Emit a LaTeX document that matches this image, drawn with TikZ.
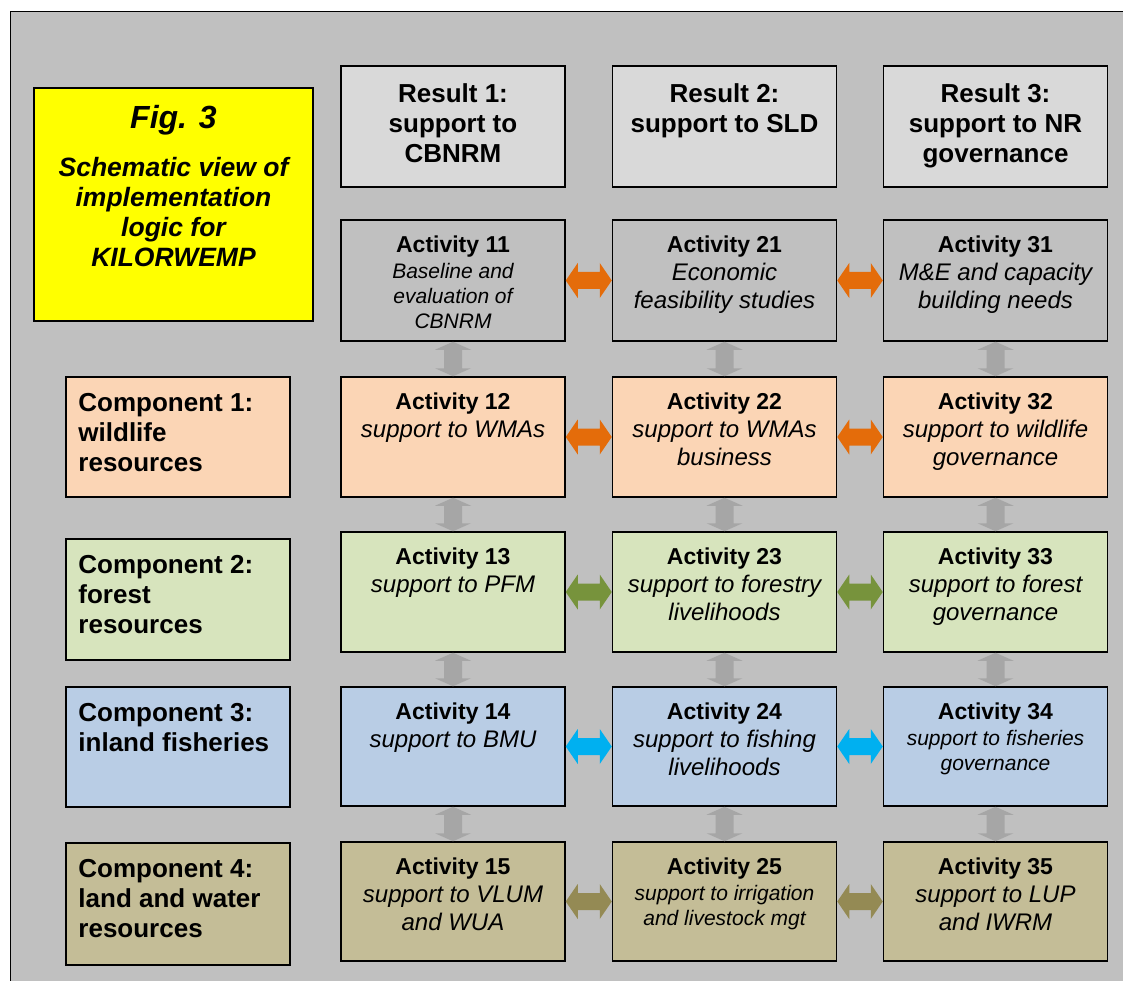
\documentclass[tikz,border=0pt]{standalone}
\usepackage{fontspec}
\setmainfont{Liberation Sans}
\usetikzlibrary{calc}

\definecolor{panel}{HTML}{C0C0C0}
\definecolor{resultfill}{HTML}{D9D9D9}
\definecolor{rowa}{HTML}{C0C0C0}
\definecolor{peach}{HTML}{FBD5B5}
\definecolor{sage}{HTML}{D7E4BD}
\definecolor{paleblue}{HTML}{B9CDE5}
\definecolor{khaki}{HTML}{C4BD97}
\definecolor{figyellow}{HTML}{FFFF00}
\definecolor{linkgray}{HTML}{A6A6A6}
\definecolor{linkorange}{HTML}{E46C0A}
\definecolor{linkgreen}{HTML}{77933C}
\definecolor{linkblue}{HTML}{00B0F0}
\definecolor{linkkhaki}{HTML}{948A54}

\tikzset{
  box/.style={draw=black, line width=1.5pt, rectangle, inner sep=0pt,
    minimum width=224pt},
  acttext/.style={align=center, inner sep=0pt,
    font=\fontsize{24}{27.6}\selectfont\itshape},
  acttextsmall/.style={align=center, inner sep=0pt,
    font=\fontsize{21}{25.2}\selectfont\itshape},
  resulttext/.style={align=center, inner sep=0pt,
    font=\fontsize{26}{30}\selectfont\bfseries},
  comptext/.style={align=left, inner sep=0pt,
    font=\fontsize{26}{30}\selectfont\bfseries},
}

\newcommand\acttitle[1]{{\fontsize{23}{23}\selectfont\bfseries\upshape #1}}

% activity box: name, x, y, height, fill, text style, title, body
\newcommand\activity[8]{%
  \node[box, fill=#5, minimum height=#4pt] (#1) at (#2,#3) {};
  \node[#6, anchor=north] (#1-text) at ([yshift=-16.7pt]#1.north) {\acttitle{#7}\\#8};
}

% double-headed block arrow between two boxes side by side
\newcommand\hlink[3]{%
  \fill[#3] let \p1=(#1.east), \p2=(#2.west) in
    (\x1,\y1) -- (\x1+12pt,\y1+17.5pt) -- (\x1+12pt,\y1+8.5pt)
    -- (\x2-12pt,\y1+8.5pt) -- (\x2-12pt,\y1+17.5pt) -- (\x2,\y1)
    -- (\x2-12pt,\y1-17.5pt) -- (\x2-12pt,\y1-8.5pt)
    -- (\x1+12pt,\y1-8.5pt) -- (\x1+12pt,\y1-17.5pt) -- cycle;
}

% double-headed block arrow between two stacked boxes
\newcommand\vlink[2]{%
  \fill[linkgray] let \p1=(#1.south), \p2=(#2.north) in
    (\x1,\y1) -- (\x1+18pt,\y1-8pt) -- (\x1+9pt,\y1-8pt)
    -- (\x1+9pt,\y2+8pt) -- (\x1+18pt,\y2+8pt) -- (\x1,\y2)
    -- (\x1-18pt,\y2+8pt) -- (\x1-9pt,\y2+8pt)
    -- (\x1-9pt,\y1-8pt) -- (\x1-18pt,\y1-8pt) -- cycle;
}

\begin{document}
\begin{tikzpicture}[x=1pt, y=-1pt]
  \useasboundingbox (0,0) rectangle (1123,981);
  \clip (0,0) rectangle (1123,981);
  \fill[white] (0,0) rectangle (1123,981);
  \draw[line width=1.5pt, fill=panel] (10.5,11.5) rectangle (1140,1000);

  % title panel
  \node[box, fill=figyellow, minimum width=279pt, minimum height=233pt] (fig) at (173.5,204.5) {};
  \node[inner sep=0pt, anchor=north, font=\fontsize{32}{32}\selectfont\bfseries\itshape]
    (fig-title) at ([yshift=-18pt]fig.north) {Fig. 3};
  \node[inner sep=0pt, anchor=north, align=center, font=\fontsize{26.5}{30}\selectfont\bfseries\itshape]
    (fig-sub) at ([yshift=-70.3pt]fig.north) {Schematic view of\\implementation\\logic for\\KILORWEMP};

  % results
  \node[box, fill=resultfill, minimum height=121pt] (r1) at (453,126.5) {};
  \node[box, fill=resultfill, minimum height=121pt] (r2) at (724.5,126.5) {};
  \node[box, fill=resultfill, minimum height=121pt] (r3) at (995.5,126.5) {};
  \node[resulttext, anchor=north] (r1-text) at ([yshift=-18.6pt]r1.north) {Result 1:\\support to\\CBNRM};
  \node[resulttext, anchor=north] (r2-text) at ([yshift=-18.6pt]r2.north) {Result 2:\\support to SLD};
  \node[resulttext, anchor=north] (r3-text) at ([yshift=-18.6pt]r3.north) {Result 3:\\support to NR\\governance};

  % components
  \node[box, fill=peach, minimum height=120pt] (c1) at (178,437) {};
  \node[box, fill=sage, minimum height=121pt] (c2) at (178,599.5) {};
  \node[box, fill=paleblue, minimum height=120pt] (c3) at (178,747) {};
  \node[box, fill=khaki, minimum height=122pt] (c4) at (178,904) {};
  \node[comptext, anchor=north west] (c1-text) at ([xshift=13pt,yshift=-17pt]c1.north west) {Component 1:\\wildlife\\resources};
  \node[comptext, anchor=north west] (c2-text) at ([xshift=13pt,yshift=-17pt]c2.north west) {Component 2:\\forest\\resources};
  \node[comptext, anchor=north west] (c3-text) at ([xshift=13pt,yshift=-17pt]c3.north west) {Component 3:\\inland fisheries};
  \node[comptext, anchor=north west] (c4-text) at ([xshift=13pt,yshift=-17pt]c4.north west) {Component 4:\\land and water\\resources};

  % activities
  \activity{a11}{453}{280.5}{121}{rowa}{acttextsmall}{Activity 11}{Baseline and\\evaluation of\\CBNRM}
  \activity{a21}{724.5}{280.5}{121}{rowa}{acttext}{Activity 21}{Economic\\feasibility studies}
  \activity{a31}{995.5}{280.5}{121}{rowa}{acttext}{Activity 31}{M\&E and capacity\\building needs}

  \activity{a12}{453}{437}{120}{peach}{acttext}{Activity 12}{support to WMAs}
  \activity{a22}{724.5}{437}{120}{peach}{acttext}{Activity 22}{support to WMAs\\business}
  \activity{a32}{995.5}{437}{120}{peach}{acttext}{Activity 32}{support to wildlife\\governance}

  \activity{a13}{453}{592}{120}{sage}{acttext}{Activity 13}{support to PFM}
  \activity{a23}{724.5}{592}{120}{sage}{acttext}{Activity 23}{support to forestry\\livelihoods}
  \activity{a33}{995.5}{592}{120}{sage}{acttext}{Activity 33}{support to forest\\governance}

  \activity{a14}{453}{746.5}{119}{paleblue}{acttext}{Activity 14}{support to BMU}
  \activity{a24}{724.5}{746.5}{119}{paleblue}{acttext}{Activity 24}{support to fishing\\livelihoods}
  \activity{a34}{995.5}{746.5}{119}{paleblue}{acttextsmall}{Activity 34}{support to fisheries\\governance}

  \activity{a15}{453}{901.5}{119}{khaki}{acttext}{Activity 15}{support to VLUM\\and WUA}
  \activity{a25}{724.5}{901.5}{119}{khaki}{acttextsmall}{Activity 25}{support to irrigation\\and livestock mgt}
  \activity{a35}{995.5}{901.5}{119}{khaki}{acttext}{Activity 35}{support to LUP\\and IWRM}

  % links along each row
  \hlink{a11}{a21}{linkorange} \hlink{a21}{a31}{linkorange}
  \hlink{a12}{a22}{linkorange} \hlink{a22}{a32}{linkorange}
  \hlink{a13}{a23}{linkgreen}  \hlink{a23}{a33}{linkgreen}
  \hlink{a14}{a24}{linkblue}   \hlink{a24}{a34}{linkblue}
  \hlink{a15}{a25}{linkkhaki}  \hlink{a25}{a35}{linkkhaki}

  % links down each column
  \foreach \c in {1,2,3} {
    \vlink{a\c1}{a\c2}
    \vlink{a\c2}{a\c3}
    \vlink{a\c3}{a\c4}
    \vlink{a\c4}{a\c5}
  }
\end{tikzpicture}
\end{document}
